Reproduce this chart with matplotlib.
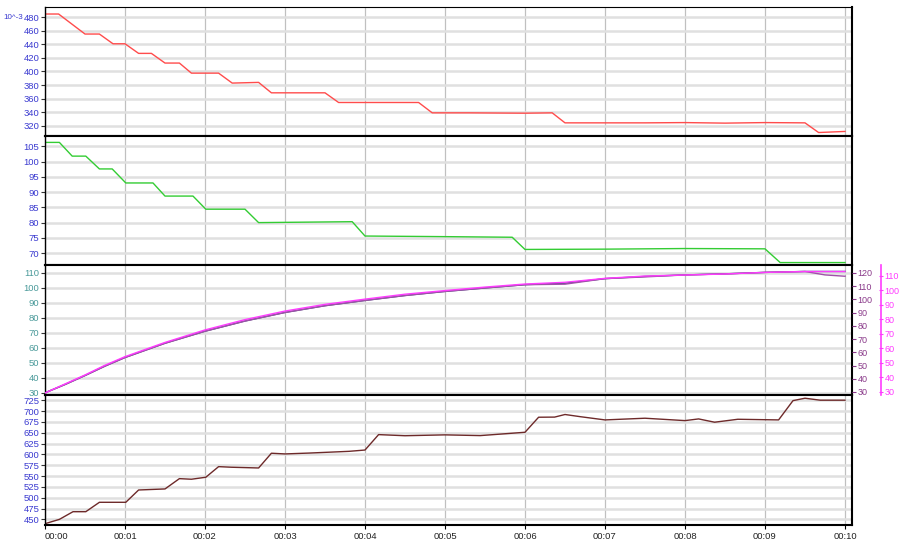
import matplotlib.pyplot as plt

plt.rcParams['font.family'] = ['Liberation Sans', 'DejaVu Sans']

# panel 1 - red series (10^-3 units)
t_red = [0, 0.17, 0.5, 0.68, 0.85, 1.0, 1.17, 1.33, 1.5, 1.68, 1.83, 2.17, 2.34, 2.67, 2.83,
         3.5, 3.67, 4.67, 4.84, 5.3, 6.0, 6.34, 6.5, 7.5, 8.0, 8.5, 9.0, 9.5, 9.67, 10.0]
v_red = [484.4, 484.4, 455, 455, 440.7, 440.7, 426.6, 426.6, 412.4, 412.4, 397.6, 397.6, 383, 384, 368.7,
         368.7, 354.5, 354.5, 339.3, 339.3, 338.8, 339.3, 324.6, 324.6, 325, 324.2, 325, 324.6, 310.4, 312]

# panel 2 - green series
t_green = [0, 0.18, 0.34, 0.51, 0.68, 0.84, 1.01, 1.35, 1.5, 1.85, 2.01, 2.5, 2.67, 3.84,
           4.0, 5.0, 5.84, 6.0, 7.0, 8.0, 9.0, 9.19, 10.0]
v_green = [106.3, 106.3, 101.8, 101.8, 97.6, 97.6, 93.0, 93.0, 88.7, 88.7, 84.4, 84.4, 80.0, 80.3,
           75.6, 75.4, 75.2, 71.2, 71.3, 71.5, 71.4, 66.9, 66.9]

# panel 3 - three curves on three scales
t_curve = [0, 0.25, 0.5, 0.75, 1, 1.5, 2, 2.5, 3, 3.5, 4, 4.5, 5, 5.5, 6, 6.5, 7, 7.5, 8, 8.5, 9, 9.5, 9.75, 10]
v_dark = [30, 35.5, 41.5, 47.8, 53.5, 63, 71, 77.8, 83.5, 88, 91.5, 94.8, 97.5, 99.8, 102, 103,
          106, 107.5, 108.5, 109.2, 110.2, 110.8, 110.8, 110.8]
v_purple = [29.3, 35.6, 42.4, 49.5, 56.0, 66.8, 75.9, 83.6, 90.1, 95.2, 99.2, 102.9, 106.0, 108.6, 111.1, 111.5,
            115.7, 117.0, 118.5, 119.3, 120.4, 121.1, 118.5, 117.5]
v_magenta = [29.3, 35.5, 41.7, 48.4, 54.3, 64.1, 72.7, 79.8, 85.7, 90.3, 93.9, 97.3, 99.8, 102.2, 104.3, 105.5,
             108.2, 109.8, 110.5, 111.2, 112.3, 112.9, 112.9, 112.9]

# panel 4 - brown series
t_brown = [0, 0.18, 0.35, 0.51, 0.68, 1.01, 1.17, 1.5, 1.68, 1.83, 2.01, 2.17, 2.33, 2.67, 2.83, 3.0,
           3.3, 3.8, 4.0, 4.17, 4.5, 5.0, 5.44, 6.0, 6.17, 6.37, 6.5, 6.69, 7.0, 7.5, 8.0, 8.17,
           8.37, 8.66, 9.17, 9.35, 9.5, 9.69, 10.0]
v_brown = [440, 450, 467.7, 467.7, 489.4, 489.4, 517.8, 520.2, 544, 542.6, 547.2, 571.7, 570.3, 568.6, 602.6, 601,
           603, 607, 610, 645.6, 643, 645, 643.3, 651, 685.7, 686, 692, 687, 679.5, 683.4, 677.9, 681.8,
           674.2, 681, 679.5, 724, 729.6, 725, 725]

minute_ticks = list(range(11))
minute_labels = ['00:%02d' % m for m in minute_ticks]

fig = plt.figure(figsize=(8.99, 5.42), dpi=100)
left, width = 45 / 899, (852 - 45) / 899
bounds = [(7, 136), (136, 265), (265, 395), (395, 525)]
axes = []
for top, bot in bounds:
    ax = fig.add_axes([left, 1 - bot / 542, width, (bot - top) / 542])
    axes.append(ax)

label_blue = '#3a3ad0'
fs = 6.8
for ax in axes:
    ax.set_xlim(0, 10.0875)
    ax.set_xticks(minute_ticks)
    ax.grid(axis='y', color='#e0e0e0', lw=1.8)
    ax.grid(axis='x', color='#c0c0c0', lw=0.9)
    ax.set_axisbelow(True)
    ax.tick_params(axis='y', labelsize=fs, length=3, width=0.8, pad=1, colors='#333333', labelcolor=label_blue)
    ax.tick_params(axis='x', labelsize=fs, length=3, width=0.8, pad=2, labelcolor='#222222')
    for s in ['top', 'bottom']:
        ax.spines[s].set_linewidth(1.5)
    ax.spines['left'].set_linewidth(1.0)
    ax.spines['right'].set_linewidth(1.5)
for ax in axes[:-1]:
    ax.tick_params(axis='x', labelbottom=False, length=0)
axes[0].spines['top'].set_linewidth(0.8)
axes[-1].set_xticklabels(minute_labels)
axes[-1].get_xticklabels()[0].set_horizontalalignment('left')

ax1, ax2, ax3, ax4 = axes

ax1.plot(t_red, v_red, color='#ff4c4c', lw=1.0)
ax1.set_ylim(305.3, 494.7)
ax1.set_yticks(range(320, 481, 20))
ax1.text(-0.052, 480, '10^-3', transform=ax1.get_yaxis_transform(), ha='left', va='center',
         fontsize=5.8, color=label_blue)

ax2.plot(t_green, v_green, color='#33cc33', lw=1.0)
ax2.set_ylim(66.1, 108.4)
ax2.set_yticks(range(70, 106, 5))

ax3.plot(t_curve, v_dark, color='#3b4f7a', lw=1.0)
ax3.set_ylim(28.5, 115.1)
ax3.set_yticks(range(30, 111, 10))
ax3.tick_params(axis='y', labelcolor='#4a9a9a')

ax3b = ax3.twinx()
ax3b.plot(t_curve, v_purple, color='#a050a8', lw=1.0)
ax3b.set_ylim(27.7, 126)
ax3b.set_yticks(range(30, 121, 10))
ax3b.tick_params(axis='y', labelsize=6.5, length=3, width=0.8, pad=1, colors='#8a3a8a')
for s in ['top', 'bottom', 'left', 'right']:
    ax3b.spines[s].set_visible(False)

ax3c = ax3.twinx()
ax3c.plot(t_curve, v_magenta, color='#ff3cff', lw=1.0)
ax3c.set_ylim(27.9, 117.4)
ax3c.set_yticks(range(30, 111, 10))
ax3c.spines['right'].set_position(('outward', 21))
ax3c.spines['right'].set_color('#ff3cff')
ax3c.spines['right'].set_linewidth(1.2)
for s in ['top', 'bottom', 'left']:
    ax3c.spines[s].set_visible(False)
ax3c.tick_params(axis='y', labelsize=6.5, length=3, width=0.8, pad=1, direction='inout', colors='#ff3cff')

ax4.plot(t_brown, v_brown, color='#6e2a2a', lw=1.0)
ax4.set_ylim(437, 737)
ax4.set_yticks(range(450, 726, 25))

fig.savefig('out.png', dpi=100)
